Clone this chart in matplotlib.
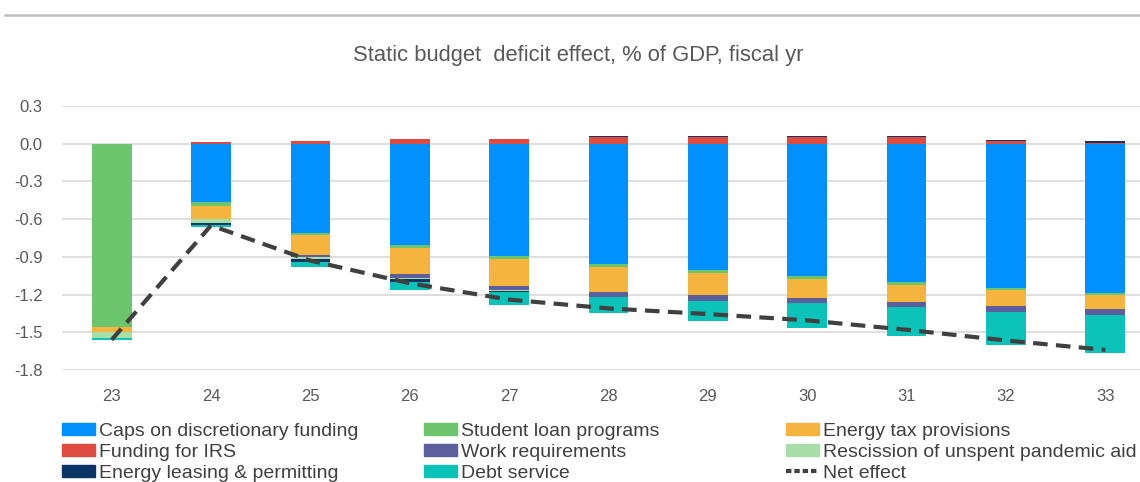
import numpy as np
import matplotlib
matplotlib.use("Agg")
import matplotlib.pyplot as plt
from matplotlib.lines import Line2D
from matplotlib.patches import Patch

plt.rcParams["font.family"] = ["Liberation Sans", "DejaVu Sans"]

# %%
years = ["23", "24", "25", "26", "27", "28", "29", "30", "31", "32", "33"]

caps = [0.0, -0.467, -0.711, -0.809, -0.896, -0.955, -1.005, -1.050, -1.098, -1.146, -1.185]
student_loan = [-1.458, -0.027, -0.019, -0.024, -0.021, -0.024, -0.024, -0.024, -0.024, -0.016, -0.016]
energy_tax = [-0.037, -0.103, -0.154, -0.201, -0.212, -0.199, -0.172, -0.151, -0.135, -0.127, -0.111]
funding_irs = [0.0, 0.010, 0.024, 0.040, 0.040, 0.050, 0.050, 0.050, 0.050, 0.019, 0.008]
work_req = [-0.005, -0.005, -0.021, -0.032, -0.032, -0.040, -0.048, -0.040, -0.040, -0.048, -0.048]
rescission = [-0.045, -0.032, -0.013, -0.008, -0.008, -0.005, 0.0, 0.0, 0.0, 0.0, 0.0]
energy_leasing = [0.0, -0.013, -0.021, -0.024, -0.013, 0.008, 0.008, 0.008, 0.008, 0.013, 0.010]
debt_service = [-0.013, -0.013, -0.040, -0.069, -0.103, -0.127, -0.164, -0.204, -0.236, -0.265, -0.305]
net_effect = [-1.56, -0.65, -0.93, -1.11, -1.24, -1.31, -1.355, -1.405, -1.48, -1.565, -1.64]

series = [
    ("Caps on discretionary funding", caps, "#0090FF"),
    ("Student loan programs", student_loan, "#6CC46C"),
    ("Energy tax provisions", energy_tax, "#F4B43E"),
    ("Funding for IRS", funding_irs, "#E04B40"),
    ("Work requirements", work_req, "#5C5F9B"),
    ("Rescission of unspent pandemic aid", rescission, "#A8DEA8"),
    ("Energy leasing & permitting", energy_leasing, "#0B3566"),
    ("Debt service", debt_service, "#0BC3B8"),
]

text_color = "#595959"

# %%
fig = plt.figure(figsize=(11.4, 4.82), dpi=100)
ax = fig.add_axes([62 / 1140, 1 - 370 / 482, 1093 / 1140, 264 / 482])

x = np.arange(len(years))
pos_base = np.zeros(len(years))
neg_base = np.zeros(len(years))
for name, vals, color in series:
    v = np.array(vals)
    pos = np.where(v > 0, v, 0)
    neg = np.where(v < 0, v, 0)
    ax.bar(x, pos, 0.4, bottom=pos_base, color=color, linewidth=0, zorder=2)
    ax.bar(x, neg, 0.4, bottom=neg_base, color=color, linewidth=0, zorder=2)
    pos_base += pos
    neg_base += neg

ax.plot(x, net_effect, color="#404040", linewidth=3, linestyle=(0, (3.5, 2)), zorder=3)

ax.set_xlim(-0.5, len(years) - 0.5)
ax.set_ylim(-1.8, 0.3)
yticks = [0.3, 0.0, -0.3, -0.6, -0.9, -1.2, -1.5, -1.8]
ax.set_yticks(yticks)
ax.set_yticklabels([f"{t:.1f}" for t in yticks])
ax.set_xticks(x)
ax.set_xticklabels(years)
ax.tick_params(axis="both", length=0, labelsize=12, labelcolor=text_color)
ax.tick_params(axis="y", pad=14)
ax.tick_params(axis="x", pad=14)
ax.grid(axis="y", color="#D9D9D9", linewidth=1.2, zorder=0)
ax.set_axisbelow(True)
for s in ax.spines.values():
    s.set_visible(False)

fig.text(578 / 1140, 1 - 55 / 482, "Static budget  deficit effect, % of GDP, fiscal yr",
         ha="center", va="center", fontsize=15.8, color=text_color)
fig.add_artist(Line2D([5 / 1140, 1], [1 - 15 / 482, 1 - 15 / 482],
                      color="#BFBFBF", linewidth=1.8))

# %%
handles = [Patch(color=c, label=n) for n, _, c in series]
handles.append(Line2D([0], [0], color="#404040", linewidth=3,
                      linestyle=(0, (1.3, 0.7)), label="Net effect"))
columns = [[0, 3, 6], [1, 4, 7], [2, 5, 8]]
col_x = [62, 424, 786]
for cx, idx in zip(col_x, columns):
    fig.legend([handles[i] for i in idx], [handles[i].get_label() for i in idx],
               loc="upper left", bbox_to_anchor=(cx / 1140, 1 - 423 / 482),
               frameon=False, fontsize=14, labelcolor="#404040",
               handlelength=1.7, handleheight=0.52, handletextpad=0.2,
               labelspacing=0.2, borderpad=0, borderaxespad=0)

fig.savefig("out.png", dpi=100)
